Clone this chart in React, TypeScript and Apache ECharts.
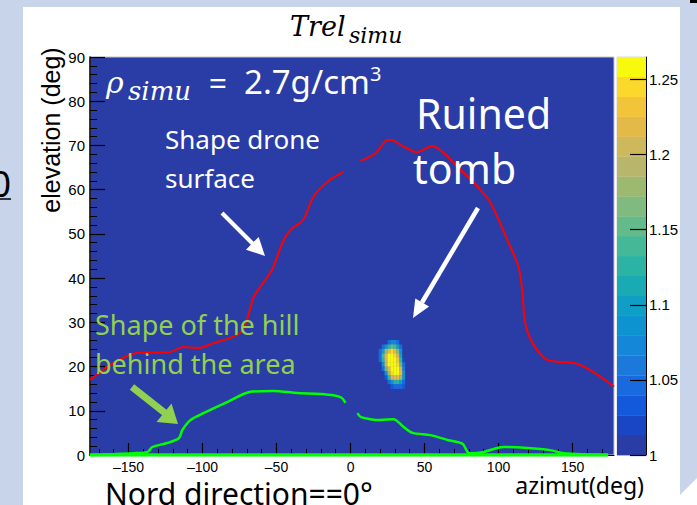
import React, { useEffect, useRef } from 'react';
import * as echarts from 'echarts';

// ---------- data ----------
const xMajorTicks = [-150, -100, -50, 0, 50, 100, 150];
const xMinorTicks = [-170, -160, -140, -130, -120, -110, -90, -80, -70, -60, -40, -30, -20, -10, 10, 20, 30, 40, 60, 70, 80, 90, 110, 120, 130, 140, 160, 170];
const colorbarTicks = [1, 1.05, 1.1, 1.15, 1.2, 1.25];

const colorLevels = [1.0, 1.0133, 1.0265, 1.0398, 1.053, 1.0663, 1.0795, 1.0928, 1.106, 1.1193, 1.1325, 1.1458, 1.159, 1.1723, 1.1855, 1.1988, 1.212, 1.2253, 1.2385, 1.2518, 1.265];
const parulaColors = ['#2a3ca5', '#1947c4', '#1359dc', '#1a6adf', '#1b79dc', '#1587d9', '#0e93d1', '#0f9fc6', '#18abb4', '#2bb4a6', '#45b898', '#63ba8b', '#80ba7e', '#9db96f', '#b8b66a', '#cdb85b', '#e3b948', '#f2c43a', '#fad82c', '#f8fa0e'];

const blobAz = [20, 22, 24, 26, 28, 30, 32, 34, 36, 38];
const blobEl = [25.5, 24.5, 23.5, 22.5, 21.5, 20.5, 19.5, 18.5, 17.5, 16.5, 15.5];
const blobValues = [
  [1, 1, 1, 1.05, 1.07, 1.07, 1.05, 1, 1, 1],
  [1, 1.04, 1.08, 1.12, 1.15, 1.14, 1.1, 1.05, 1, 1],
  [1.04, 1.1, 1.18, 1.22, 1.24, 1.22, 1.16, 1.08, 1, 1],
  [1.05, 1.14, 1.22, 1.26, 1.26, 1.25, 1.2, 1.1, 1, 1],
  [1.04, 1.12, 1.2, 1.26, 1.27, 1.26, 1.23, 1.12, 1.02, 1],
  [1, 1.08, 1.2, 1.26, 1.27, 1.27, 1.25, 1.15, 1.04, 1],
  [1, 1.05, 1.15, 1.22, 1.27, 1.27, 1.26, 1.2, 1.06, 1],
  [1, 1, 1.08, 1.18, 1.24, 1.26, 1.26, 1.22, 1.08, 1],
  [1, 1, 1.03, 1.12, 1.2, 1.22, 1.22, 1.18, 1.08, 1],
  [1, 1, 1, 1.04, 1.08, 1.12, 1.12, 1.1, 1.05, 1],
  [1, 1, 1, 1, 1.03, 1.04, 1.05, 1.05, 1.03, 1],
];

const droneLeft = [[-176, 17.0], [-162, 20.4], [-144, 23.1], [-122, 23.3], [-113, 24.4], [-103, 24.2], [-92.5, 25.3], [-81, 26.5], [-74, 27.8], [-70, 30.5], [-65.5, 35.7], [-61, 38], [-53, 41.9], [-46, 48], [-40.5, 50.9], [-32, 53.2], [-25, 58.4], [-15.5, 61.8], [-4.7, 64]];
const droneRight = [[6.8, 66.5], [17, 68.3], [23.6, 71], [27, 71.3], [36, 69.7], [45, 68.5], [55.4, 69.9], [63, 68.3], [74.3, 64.5], [85, 61], [94.6, 57], [106, 48.6], [113.5, 42.5], [116, 37.3], [118, 29.9], [123, 25.3], [133, 21.5], [151, 20.8], [162, 19.2], [178, 15.5]];
const hillLeft = [[-176, 0], [-146.6, 0.4], [-137, 0.7], [-134, 1.8], [-124, 2.7], [-116, 3.8], [-113.5, 5.7], [-108, 7.9], [-99, 9.5], [-83, 12], [-67.6, 14.3], [-52, 14.5], [-36, 14], [-20, 13.8], [-6.8, 13.1], [-3.4, 11.8]];
const hillRight = [[4.7, 9.5], [6.8, 8.6], [13.5, 8.1], [20, 7.9], [29, 8.1], [36, 6.3], [42, 5], [54, 4.5], [65.5, 3.4], [75.7, 2.5], [79, 0.7], [81, 0.4], [90, 0.7], [99, 1.6], [103.5, 1.8], [119.5, 1.6], [135, 1.1], [144, 0.4], [174, 0]];
const hillBase = [[-176, 0], [174, 0]];

// ---------- styling ----------
const PAGE_BG = '#c8d4ea';
const CELL_W = 2;
const CELL_H = 1;
const SANS = '"Noto Sans", "Open Sans", sans-serif';
const ARIAL = '"Liberation Sans", Arial, sans-serif';
const SERIF = '"DejaVu Serif", serif';

function txt(text: string, x: number, y: number, size: number, fill: string, family: string, extra: any = {}) {
  return {
    type: 'text',
    x,
    y,
    z: 100,
    rotation: extra.rotation || 0,
    style: {
      text,
      fill,
      fontSize: size,
      fontFamily: family,
      fontStyle: extra.italic ? 'italic' : 'normal',
      align: extra.align || 'left',
      verticalAlign: 'middle',
    },
  };
}

function arrow(x1: number, y1: number, bx: number, by: number, head: number[][], color: string, w: number) {
  return [
    { type: 'line', z: 100, shape: { x1, y1, x2: bx, y2: by }, style: { stroke: color, lineWidth: w } },
    { type: 'polygon', z: 100, shape: { points: head }, style: { fill: color } },
  ];
}

export default function App() {
  const ref = useRef<HTMLDivElement>(null);

  useEffect(() => {
    if (!ref.current) return;
    const chart = echarts.init(ref.current, undefined, { renderer: 'svg' });

    const heatData: number[][] = [];
    blobEl.forEach((el, r) => {
      blobAz.forEach((az, c) => {
        heatData.push([az, el, blobValues[r][c]]);
      });
    });
    const barData = parulaColors.map((_, i) => [0, colorLevels[i], (colorLevels[i] + colorLevels[i + 1]) / 2, colorLevels[i + 1]]);

    const pieces = parulaColors.map((c, i) =>
      i === parulaColors.length - 1 ? { gte: colorLevels[i], color: c } : { gte: colorLevels[i], lt: colorLevels[i + 1], color: c }
    );

    const axisText = { color: '#000', fontFamily: ARIAL };

    const option: any = {
      animation: false,
      backgroundColor: '#ffffff',
      grid: [
        { left: 90, top: 57, width: 524, height: 398, show: true, backgroundColor: parulaColors[0], borderColor: '#c4c4c4', borderWidth: 1 },
        { left: 617, top: 57, width: 29, height: 398, show: true, backgroundColor: 'transparent', borderColor: '#d6d6d6', borderWidth: 1 },
      ],
      xAxis: [
        {
          type: 'value', gridIndex: 0, min: -176, max: 178, position: 'bottom', z: 1,
          axisLine: { show: true, onZero: false, lineStyle: { color: '#000', width: 1 } },
          axisTick: { show: true, inside: true, length: 12, customValues: xMajorTicks, lineStyle: { color: '#000', width: 1.2 } },
          axisLabel: { customValues: xMajorTicks, margin: 5, fontSize: 14, ...axisText, formatter: (v: number) => (v < 0 ? '\u2013' + Math.abs(v) : String(v)) },
          splitLine: { show: false },
        },
        {
          type: 'value', gridIndex: 0, min: -176, max: 178, position: 'bottom', z: 1,
          axisLine: { show: false, onZero: false },
          axisTick: { show: true, inside: true, length: 6, customValues: xMinorTicks, lineStyle: { color: '#000', width: 1 } },
          axisLabel: { show: false },
          splitLine: { show: false },
        },
        { type: 'value', gridIndex: 1, min: 0, max: 1, show: false },
      ],
      yAxis: [
        {
          type: 'value', gridIndex: 0, min: 0, max: 90, interval: 10, z: 1,
          axisLine: { show: true, onZero: false, lineStyle: { color: '#000', width: 1.5 } },
          axisTick: { show: true, inside: true, length: 15, lineStyle: { color: '#000', width: 1.2 } },
          minorTick: { show: true, splitNumber: 5, length: 7, lineStyle: { color: '#000', width: 1 } },
          axisLabel: { margin: 5, fontSize: 15, ...axisText },
          splitLine: { show: false },
        },
        {
          type: 'value', gridIndex: 1, min: 1, max: 1.265, position: 'right', z: 3,
          axisLine: { show: true, onZero: false, lineStyle: { color: '#000', width: 1 } },
          axisTick: { show: true, inside: true, length: 16, customValues: colorbarTicks, lineStyle: { color: '#000', width: 1.2 } },
          axisLabel: { customValues: colorbarTicks, margin: 3, fontSize: 15, ...axisText },
          splitLine: { show: false },
        },
      ],
      visualMap: {
        type: 'piecewise', show: false, dimension: 2, seriesIndex: [0, 1], pieces,
      },
      series: [
        {
          type: 'custom', xAxisIndex: 0, yAxisIndex: 0, z: 2, data: heatData,
          renderItem: (_p: any, api: any) => {
            const az = api.value(0);
            const el = api.value(1);
            const p1 = api.coord([az - CELL_W / 2, el + CELL_H / 2]);
            const p2 = api.coord([az + CELL_W / 2, el - CELL_H / 2]);
            return {
              type: 'rect',
              shape: { x: p1[0], y: p1[1], width: p2[0] - p1[0] + 0.3, height: p2[1] - p1[1] + 0.3 },
              style: { fill: api.visual('color') },
            };
          },
        },
        {
          type: 'custom', xAxisIndex: 2, yAxisIndex: 1, z: 2, data: barData,
          renderItem: (_p: any, api: any) => {
            const p1 = api.coord([0, api.value(3)]);
            const p2 = api.coord([1, api.value(1)]);
            return {
              type: 'rect',
              shape: { x: p1[0], y: p1[1], width: p2[0] - p1[0], height: p2[1] - p1[1] + 0.3 },
              style: { fill: api.visual('color') },
            };
          },
        },
        { type: 'line', xAxisIndex: 0, yAxisIndex: 0, z: 3, data: droneLeft, symbol: 'none', smooth: 0.3, lineStyle: { color: '#ff0000', width: 2 } },
        { type: 'line', xAxisIndex: 0, yAxisIndex: 0, z: 3, data: droneRight, symbol: 'none', smooth: 0.3, lineStyle: { color: '#ff0000', width: 2 } },
        { type: 'line', xAxisIndex: 0, yAxisIndex: 0, z: 3, data: hillLeft, symbol: 'none', smooth: 0.3, lineStyle: { color: '#00ff00', width: 2.5 } },
        { type: 'line', xAxisIndex: 0, yAxisIndex: 0, z: 3, data: hillRight, symbol: 'none', smooth: 0.3, lineStyle: { color: '#00ff00', width: 2.5 } },
        { type: 'line', xAxisIndex: 0, yAxisIndex: 0, z: 3, data: hillBase, symbol: 'none', lineStyle: { color: '#00ff00', width: 3.5 } },
      ],
      graphic: {
        elements: [
          { type: 'rect', z: -1, shape: { x: 0, y: 0, width: 23, height: 505 }, style: { fill: PAGE_BG } },
          { type: 'rect', z: -1, shape: { x: 0, y: 0, width: 697, height: 7 }, style: { fill: PAGE_BG } },
          { type: 'polygon', z: -1, shape: { points: [[680, 0], [697, 0], [697, 478], [680, 495]] }, style: { fill: PAGE_BG } },
          { type: 'rect', z: 0, shape: { x: 690, y: 0, width: 7, height: 3 }, style: { fill: '#000' } },
          txt('0', 11, 183, 36, '#000', SANS, { align: 'right' }),
          { type: 'line', z: 100, shape: { x1: 0, y1: 199, x2: 11, y2: 199 }, style: { stroke: '#000', lineWidth: 1.5 } },
          // title
          txt('Trel', 290, 26, 27, '#000', SERIF, { italic: true }),
          txt('simu', 349, 35, 22, '#000', SERIF, { italic: true }),
          // axis titles
          txt('elevation (deg)', 51, 130, 25, '#000', ARIAL, { align: 'center', rotation: Math.PI / 2 }),
          txt('azimut(deg)', 644, 485, 23, '#000', SANS, { align: 'right' }),
          txt('Nord direction==0°', 105, 493, 30, '#000', SANS),
          // density label
          txt('ρ', 106, 82, 30, '#fff', SERIF, { italic: true }),
          txt('simu', 128, 91, 26, '#fff', SERIF, { italic: true }),
          txt('=', 218, 82, 32, '#fff', SANS, { align: 'center' }),
          txt('2.7g/cm', 244, 81, 33, '#fff', SANS),
          txt('3', 370, 73, 20, '#fff', SANS),
          // annotations
          txt('Shape drone', 165, 139, 26, '#fff', SANS),
          txt('surface', 165, 178, 26, '#fff', SANS),
          txt('Ruined', 416, 113, 41, '#fff', SANS),
          txt('tomb', 413, 168, 41, '#fff', SANS),
          txt('Shape of the hill', 95, 324, 27, '#92d050', SANS),
          txt('behind the area', 95, 363, 27, '#92d050', SANS),
          ...arrow(222, 213, 253, 244, [[265, 256], [258.7, 236.9], [245.9, 249.7]], '#ffffff', 4),
          ...arrow(478, 208, 422, 302.5, [[413, 318], [429.1, 306.6], [415.3, 298.4]], '#ffffff', 4.5),
          ...arrow(132, 387, 165, 413, [[178, 424], [171.5, 403.5], [156.5, 422]], '#92d050', 7),
        ],
      },
    };

    chart.setOption(option);
    return () => chart.dispose();
  }, []);

  return <div ref={ref} style={{ position: 'fixed', left: 0, top: 0, width: 697, height: 505 }} />;
}
